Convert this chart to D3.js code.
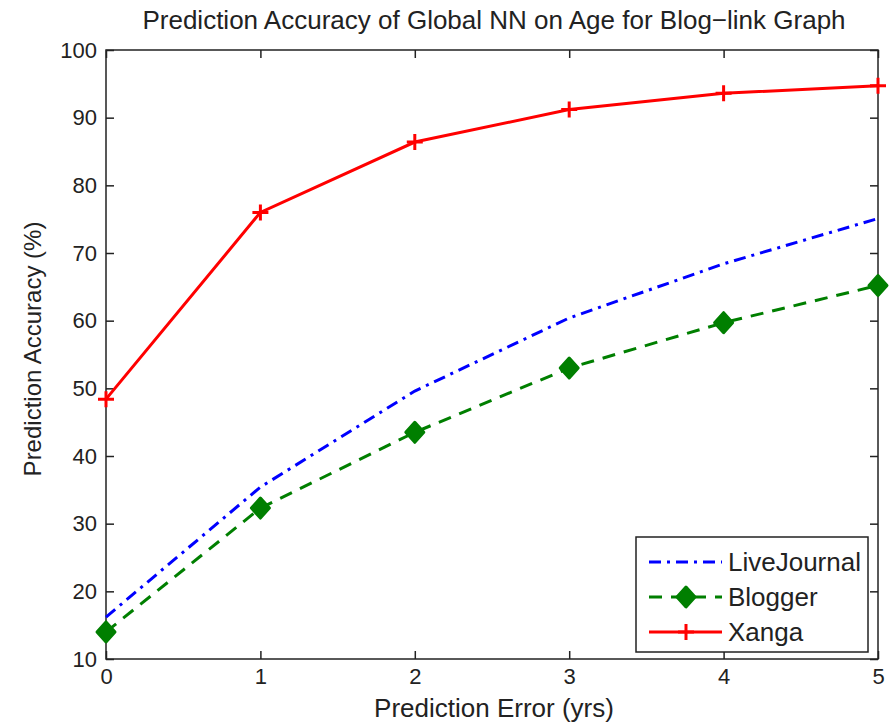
<!DOCTYPE html>
<html>
<head>
<meta charset="utf-8">
<script src="https://cdn.jsdelivr.net/npm/d3@7"></script>
<style>
  body { margin: 0; background: #fff; }
  text { font-family: "Liberation Sans", Arial, sans-serif; fill: #222; }
</style>
</head>
<body>
<div id="chart"></div>
<script>
  var width = 890;
  var height = 724;
  var margin = { "top": 50, "bottom": 65, "right": 12, "left": 106 };

  var errors = [0, 1, 2, 3, 4, 5];
  var liveJournal = [16.2, 35.4, 49.6, 60.4, 68.4, 75.1];
  var blogger = [14.0, 32.3, 43.5, 53.0, 59.7, 65.2];
  var xanga = [48.4, 76.0, 86.4, 91.2, 93.6, 94.7];
  var yTicks = [10, 20, 30, 40, 50, 60, 70, 80, 90, 100];
  var seriesNames = ["LiveJournal", "Blogger", "Xanga"];

  var series = [
    { name: "LiveJournal", values: liveJournal, color: "#0000ff", dash: "12,6,3,6", marker: null },
    { name: "Blogger", values: blogger, color: "#007f00", dash: "13,9", marker: "diamond" },
    { name: "Xanga", values: xanga, color: "#ff0000", dash: null, marker: "plus" }
  ];

  var svg = d3.select("#chart")
    .append("svg")
    .attr("width", width)
    .attr("height", height);

  var xScale = d3.scaleLinear()
    .domain([0, 5])
    .range([margin.left, width - margin.right]);

  var yScale = d3.scaleLinear()
    .domain([10, 100])
    .range([height - margin.bottom, margin.top]);

  var plotW = width - margin.left - margin.right;
  var plotH = height - margin.top - margin.bottom;

  // box
  svg.append("rect")
    .attr("x", margin.left)
    .attr("y", margin.top)
    .attr("width", plotW)
    .attr("height", plotH)
    .attr("fill", "none")
    .attr("stroke", "#222")
    .attr("stroke-width", 1.5);

  // axes, ticks pointing inside
  var axisB = svg.append("g")
    .attr("transform", "translate(0," + (height - margin.bottom) + ")")
    .call(d3.axisBottom(xScale).tickValues(errors).tickFormat(d3.format("d")).tickSizeInner(-8).tickSizeOuter(0).tickPadding(9));
  var axisL = svg.append("g")
    .attr("transform", "translate(" + margin.left + ",0)")
    .call(d3.axisLeft(yScale).tickValues(yTicks).tickSizeInner(-8).tickSizeOuter(0).tickPadding(9));
  var axisT = svg.append("g")
    .attr("transform", "translate(0," + margin.top + ")")
    .call(d3.axisTop(xScale).tickValues(errors).tickSizeInner(-8).tickSizeOuter(0).tickFormat(""));
  var axisR = svg.append("g")
    .attr("transform", "translate(" + (width - margin.right) + ",0)")
    .call(d3.axisRight(yScale).tickValues(yTicks).tickSizeInner(-8).tickSizeOuter(0).tickFormat(""));

  [axisB, axisL, axisT, axisR].forEach(function(a) {
    a.select(".domain").remove();
    a.selectAll("line").attr("stroke", "#222").attr("stroke-width", 1.5);
    a.selectAll("text").attr("font-size", "22px").attr("fill", "#222")
      .style("font-family", "'Liberation Sans', Arial, sans-serif");
  });

  // lines
  var line = d3.line()
    .x(function(d, i) { return xScale(errors[i]); })
    .y(function(d) { return yScale(d); });

  series.forEach(function(s) {
    svg.append("path")
      .datum(s.values)
      .attr("d", line)
      .attr("fill", "none")
      .attr("stroke", s.color)
      .attr("stroke-width", 3)
      .attr("stroke-dasharray", s.dash);
  });

  function drawMarker(g, type, color, x, y) {
    if (type === "diamond") {
      g.append("path")
        .attr("d", "M" + x + "," + (y - 10) + "L" + (x + 9) + "," + y + "L" + x + "," + (y + 10) + "L" + (x - 9) + "," + y + "Z")
        .attr("fill", color).attr("stroke", color).attr("stroke-width", 3).attr("stroke-linejoin", "round");
    } else if (type === "plus") {
      g.append("path")
        .attr("d", "M" + (x - 8) + "," + y + "H" + (x + 8) + "M" + x + "," + (y - 8) + "V" + (y + 8))
        .attr("stroke", color).attr("stroke-width", 3);
    }
  }

  var markers = svg.append("g");
  series.forEach(function(s) {
    if (!s.marker) return;
    s.values.forEach(function(v, i) {
      drawMarker(markers, s.marker, s.color, xScale(errors[i]), yScale(v));
    });
  });

  // title and labels
  svg.append("text")
    .attr("x", 494)
    .attr("y", 29)
    .attr("text-anchor", "middle")
    .attr("font-size", "26px")
    .text("Prediction Accuracy of Global NN on Age for Blog\u2212link Graph");

  svg.append("text")
    .attr("x", 494)
    .attr("y", 717)
    .attr("text-anchor", "middle")
    .attr("font-size", "26px")
    .text("Prediction Error (yrs)");

  svg.append("text")
    .attr("transform", "rotate(-90)")
    .attr("x", -349)
    .attr("y", 41)
    .attr("text-anchor", "middle")
    .attr("font-size", "24px")
    .text("Prediction Accuracy (%)");

  // legend
  var lg = svg.append("g").attr("transform", "translate(636,537)");
  lg.append("rect")
    .attr("width", 232).attr("height", 115)
    .attr("fill", "#fff").attr("stroke", "#222").attr("stroke-width", 1.5);

  seriesNames.forEach(function(name, i) {
    var s = series[i];
    var y = 25 + i * 35;
    lg.append("line")
      .attr("x1", 13).attr("x2", 86).attr("y1", y).attr("y2", y)
      .attr("stroke", s.color).attr("stroke-width", 3)
      .attr("stroke-dasharray", s.dash);
    if (s.marker) drawMarker(lg, s.marker, s.color, 50, y);
    lg.append("text")
      .attr("x", 92).attr("y", y + 9)
      .attr("font-size", "26px")
      .text(name);
  });
</script>
</body>
</html>
